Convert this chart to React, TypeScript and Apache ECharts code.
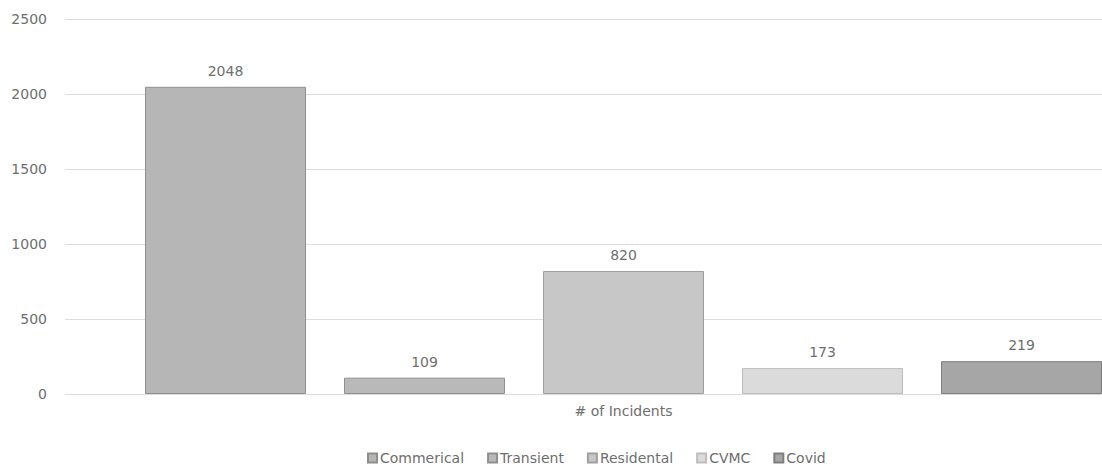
import React, { useEffect, useRef } from "react";
import * as echarts from "echarts";

const categories = ["# of Incidents"];
const seriesNames = ["Commerical", "Transient", "Residental", "CVMC", "Covid"];
const seriesValues = [2048, 109, 820, 173, 219];
const seriesColors = ["#b6b6b6", "#b9b9b9", "#c7c7c7", "#dbdbdb", "#a6a6a6"];
const borderColors = ["#8e8e8e", "#909090", "#a0a0a0", "#bdbdbd", "#7e7e7e"];
const yTicks = { min: 0, max: 2500, interval: 500 };

const FONT = "'DejaVu Sans', 'Open Sans', sans-serif";
const TEXT = "#6e6e6e";

export default function App() {
  const ref = useRef<HTMLDivElement>(null);

  useEffect(() => {
    if (!ref.current) return;
    const chart = echarts.init(ref.current, undefined, { renderer: "svg" });
    chart.setOption({
      animation: false,
      backgroundColor: "#ffffff",
      textStyle: { fontFamily: FONT },
      grid: { left: 65, right: 0, top: 19, bottom: 76, containLabel: false },
      legend: {
        data: seriesNames,
        left: 362,
        top: 446,
        itemWidth: 9,
        itemHeight: 9,
        itemGap: 23,
        icon: "rect",
        textStyle: { color: TEXT, fontSize: 14, fontFamily: FONT, padding: [0, 0, 0, -2] },
      },
      xAxis: {
        type: "category",
        data: categories,
        axisLine: { show: false },
        axisTick: { show: false },
        axisLabel: { color: TEXT, fontSize: 14, margin: 10, fontFamily: FONT },
      },
      yAxis: {
        type: "value",
        min: yTicks.min,
        max: yTicks.max,
        interval: yTicks.interval,
        axisLine: { show: false },
        axisTick: { show: false },
        axisLabel: {
          color: TEXT,
          fontSize: 14,
          margin: 18,
          fontFamily: FONT,
          formatter: (v: number) => String(v),
        },
        splitLine: { lineStyle: { color: "#dcdcdc", width: 1 } },
      },
      series: seriesNames.map((name, i) => ({
        name,
        type: "bar",
        data: [seriesValues[i]],
        barWidth: 161,
        barGap: "23.6%",
        itemStyle: {
          color: seriesColors[i],
          borderColor: borderColors[i],
          borderWidth: 1,
        },
        label: {
          show: true,
          position: "top",
          distance: 9,
          color: TEXT,
          fontSize: 14,
          fontFamily: FONT,
        },
      })),
    });
    return () => chart.dispose();
  }, []);

  return (
    <div
      style={{
        position: "absolute",
        left: 0,
        top: 0,
        width: 1102,
        height: 470,
        overflow: "hidden",
        background: "#ffffff",
      }}
    >
      <div ref={ref} style={{ width: 1182, height: 470 }} />
    </div>
  );
}
